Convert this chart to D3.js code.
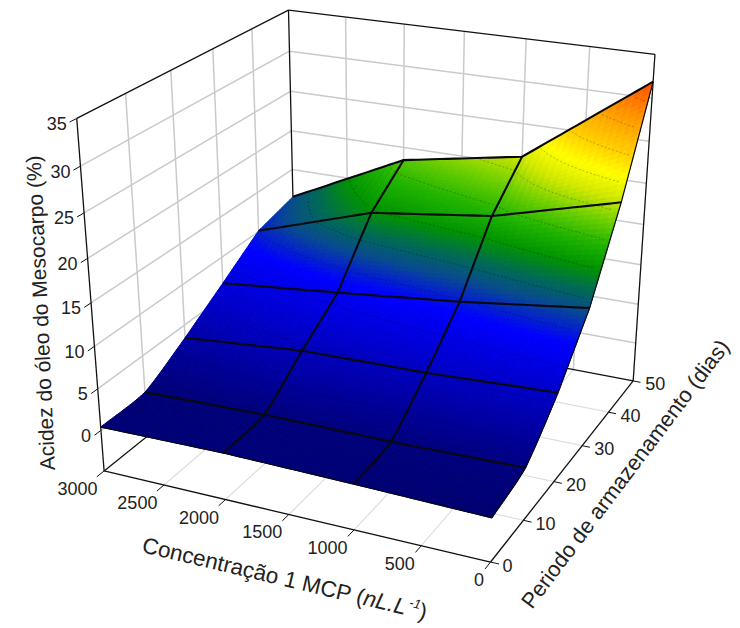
<!DOCTYPE html><html><head><meta charset="utf-8"><script src="https://cdnjs.cloudflare.com/ajax/libs/d3/7.8.5/d3.min.js"></script>
<style>html,body{margin:0;background:#fff}text{font-family:"Liberation Sans",Arial,sans-serif;fill:#222}</style></head><body><svg id="c" width="740" height="628"></svg><script>
const concentrations=[3000,2000,1000,0];
const periods=[0,10,20,30,40,50];
const acidezDia0=[0.4,0.6,0.4,0.1];
const acidezDia10=[0.5,0.9,0.9,1.2];
const acidezDia20=[3.4,4.7,5.0,5.7];
const acidezDia30=[6.7,8.2,9.8,11.8];
const acidezDia40=[10.1,14.8,16.8,20.8];
const acidezDia50=[11.4,18.4,21.0,31.9];
const acidez=[acidezDia0,acidezDia10,acidezDia20,acidezDia30,acidezDia40,acidezDia50];
const xTicks=[3000,2500,2000,1500,1000,500,0];
const tTicks=[0,10,20,30,40,50];
const zTicks=[0,5,10,15,20,25,30,35];

// perspective camera: normalised box coordinates -> page
const cam=[-376.86976,267.78615,-37.30656,490.55752,-47.69581,-105.77058,-396.44958,562.01105,0.09208,0.19768,-0.09678];
const sx=d3.scaleLinear().domain([0,3000]).range([0,1]);
const st=d3.scaleLinear().domain([0,50]).range([0,1]);
const sz=d3.scaleLinear().domain([-5,35]).range([0,1]);
function P(x,t,z){const u=sx(x),v=st(t),w=sz(z),c=cam;const d=c[8]*u+c[9]*v+c[10]*w+1;
 return[(c[0]*u+c[1]*v+c[2]*w+c[3])/d,(c[4]*u+c[5]*v+c[6]*w+c[7])/d];}
const color=d3.scaleLinear()
 .domain([0,5,9,11.4,13,15,17,19,21,23,25,28,32,34])
 .range(["#00006e","#0000c0","#0000ff","#084a90","#006858","#009400","#20b400","#70d000","#d0e800","#ffff00","#ffd000","#ff9c00","#ff4a00","#ff3000"])
 .clamp(true);

const svg=d3.select("#c");
const line=d3.line();
const seg=(g,a,b,stroke,w)=>g.append("path").attr("d",line([P(...a),P(...b)])).attr("fill","none").attr("stroke",stroke).attr("stroke-width",w);
const gGrid=svg.append("g"),gAxis=svg.append("g"),gSurf=svg.append("g"),gCont=svg.append("g"),gMesh=svg.append("g"),gText=svg.append("g");
const G="#cacaca",F="#dedede";
zTicks.slice(0,-1).forEach(z=>{seg(gGrid,[3000,0,z],[3000,50,z],G,1.5);seg(gGrid,[3000,50,z],[0,50,z],G,1.5);});
[10,20,30,40].forEach(t=>seg(gGrid,[3000,t,-5],[3000,t,35],G,1.5));
[2500,2000,1500,1000,500].forEach(x=>seg(gGrid,[x,50,-5],[x,50,35],G,1.5));
[2500,2000,1500,1000,500].forEach(x=>seg(gGrid,[x,0,-5],[x,50,-5],F,1.2));
[10,20,30,40].forEach(t=>seg(gGrid,[3000,t,-5],[0,t,-5],F,1.2));
const K="#111";
[[[3000,0,-5],[0,0,-5]],[[0,0,-5],[0,50,-5]],[[0,50,-5],[3000,50,-5]],[[3000,50,-5],[3000,0,-5]],
 [[3000,0,-5],[3000,0,35]],[[3000,50,-5],[3000,50,35]],[[0,50,-5],[0,50,35]],
 [[3000,0,35],[3000,50,35]],[[3000,50,35],[0,50,35]]].forEach(s=>seg(gAxis,s[0],s[1],K,1.3));
xTicks.forEach(x=>seg(gAxis,[x,0,-5],[x,-1.6,-5],K,1));
tTicks.forEach(t=>seg(gAxis,[0,t,-5],[-60,t,-5],K,1));
zTicks.forEach(z=>seg(gAxis,[3000,0,z],[3000,-1.4,z],K,1));

// surface shading: linear between rows, softened along the two lowest period cells
const xs=concentrations,ts=periods;
function cr(a,b,c,d,f){return 0.5*((2*b)+(-a+c)*f+(2*a-5*b+4*c-d)*f*f+(-a+3*b-3*c+d)*f*f*f);}
function zAt(i,j){
 const col=k=>{const r=Math.min(Math.floor(j),4),f=j-r;const q=m=>acidez[Math.max(0,Math.min(5,m))][k];
   const lin=q(r)*(1-f)+q(r+1)*f; if(r>=2)return lin;
   const a=r==0?2*q(0)-q(1):q(r-1);return lin+0.5*(cr(a,q(r),q(r+1),q(r+2),f)-lin);};
 const c=Math.min(Math.floor(i),2),g=i-c;return col(c)*(1-g)+col(c+1)*g;}
const xAt=i=>{const c=Math.min(Math.floor(i),2);return xs[c]+(xs[c+1]-xs[c])*(i-c);};
const tAt=j=>{const c=Math.min(Math.floor(j),4);return ts[c]+(ts[c+1]-ts[c])*(j-c);};
const PI=(i,j)=>P(xAt(i),tAt(j),zAt(i,j));
const SX=16,ST=20,NX=3*SX,NT=5*ST;
const quads=[];
for(let b=NT-1;b>=0;b--)for(let a=0;a<NX;a++)quads.push([a,b]);
gSurf.selectAll("path").data(quads).join("path")
 .attr("d",([a,b])=>line([PI(a/SX,b/ST),PI((a+1)/SX,b/ST),PI((a+1)/SX,(b+1)/ST),PI(a/SX,(b+1)/ST)])+"Z")
 .attr("fill",([a,b])=>color(zAt((a+.5)/SX,(b+.5)/ST)))
 .attr("stroke",([a,b])=>color(zAt((a+.5)/SX,(b+.5)/ST))).attr("stroke-width",1);
// contours
const W=NX+1,H=NT+1,vals=new Float64Array(W*H);
for(let j=0;j<H;j++)for(let i=0;i<W;i++)vals[j*W+i]=zAt(i/SX,j/ST);
const levels=d3.range(2.5,33,2.5);
d3.contours().size([W,H]).smooth(true).thresholds(levels)(vals).forEach(ct=>{
 ct.coordinates.forEach(poly=>poly.forEach(ring=>{
  let cur=[];const flush=()=>{if(cur.length>1)gCont.append("path").attr("d",line(cur)).attr("fill","none").attr("stroke","#000").attr("stroke-opacity",.3).attr("stroke-width",.8).attr("stroke-dasharray","2,2");cur=[];};
  ring.forEach(([cx,cy])=>{ if(cx<=0.5||cy<=0.5||cx>=W-.5||cy>=H-.5){flush();return;}
    cur.push(PI((cx-.5)/SX,(cy-.5)/ST));});
  flush();
 }));
});
// mesh
ts.forEach((t,r)=>{const p=d3.range(0,NX+1).map(a=>PI(a/SX,r));
 gMesh.append("path").attr("d",line(p)).attr("fill","none").attr("stroke","#08080f").attr("stroke-width",r==0?1.2:2.1);});
xs.forEach((x,c)=>{if(c==0)return;const p=d3.range(0,NT+1).map(b=>PI(c,b/ST));
 gMesh.append("path").attr("d",line(p)).attr("fill","none").attr("stroke","#08080f").attr("stroke-width",c==3?1.2:2.1);});

// labels
const T=(s,x,y,a)=>gText.append("text").attr("x",x).attr("y",y).attr("text-anchor",a).attr("font-size",18).text(s);
xTicks.forEach(x=>{const p=P(x,0,-5);T(x,p[0]-6.5,p[1]+24,"end");});
tTicks.forEach(t=>{const p=P(0,t,-5);T(t,p[0]+12,p[1]+9.5,"start");});
zTicks.forEach(z=>{const p=P(3000,0,z);T(z,p[0]-10,p[1]+11.5,"end");});
gText.append("text").attr("transform","translate(55,470) rotate(-92.6)").attr("font-size",21).text("Acidez do óleo do Mesocarpo (%)");
const xt=gText.append("text").attr("transform","translate(141,552) rotate(13.4)").attr("font-size",22.4);
xt.append("tspan").text("Concentração 1 MCP (");
xt.append("tspan").attr("font-style","italic").text("nL.L");
xt.append("tspan").attr("font-style","italic").attr("font-size",13).attr("dy",-9).attr("dx",2).text("-1");
xt.append("tspan").attr("dy",9).text(")");
gText.append("text").attr("transform","translate(532,610) rotate(-53)").attr("font-size",21.8).text("Periodo de armazenamento (dias)");
</script></body></html>
